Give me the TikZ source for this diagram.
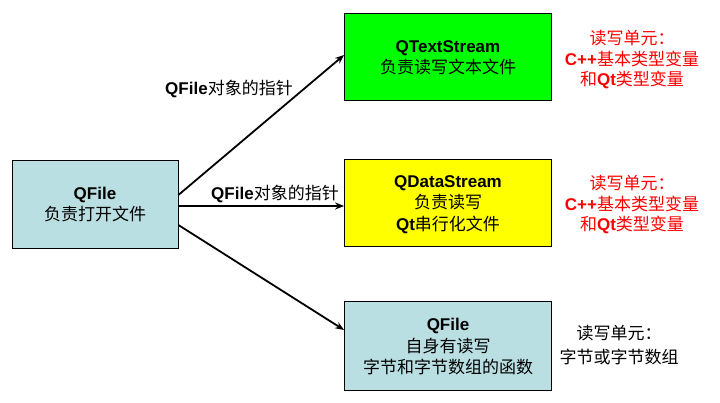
\documentclass[tikz,border=0pt]{standalone}
\usepackage{fontspec}
\setmainfont{Noto Sans CJK SC}
\newfontfamily\lat{Liberation Sans}
\usetikzlibrary{arrows.meta}
\definecolor{boxcyan}{RGB}{185,223,226}
\definecolor{boxgreen}{RGB}{0,255,0}
\definecolor{boxyellow}{RGB}{255,255,0}
\newcommand{\en}[1]{{\lat\bfseries #1}}
\tikzset{
  box/.style={draw,line width=0.8pt,align=center,minimum width=207pt,minimum height=87pt,inner sep=0pt,text depth=-9pt,font=\fontsize{17}{21.5}\selectfont},
  note/.style={align=center,inner sep=0pt,font=\fontsize{17}{20.5}\selectfont},
  link/.style={line width=1.8pt,-{Stealth[length=9pt,width=7pt]}}
}
\begin{document}
\begin{tikzpicture}[x=1pt,y=-1pt]
\useasboundingbox (0,0) rectangle (720,403);
% boxes
\node[box,fill=boxcyan,minimum width=166pt,minimum height=88pt] (qfile) at (95,204) {\en{QFile}\\负责打开文件};
\node[box,fill=boxgreen] (text) at (448,57) {\en{QTextStream}\\负责读写文本文件};
\node[box,fill=boxyellow] (data) at (448,203) {\en{QDataStream}\\负责读写\\\en{Qt}串行化文件};
\node[box,fill=boxcyan,minimum height=89pt] (raw) at (448,346) {\en{QFile}\\自身有读写\\字节和字节数组的函数};
% arrows
\draw[link] ([yshift=9pt]qfile.east) -- ([yshift=2pt]text.west);
\draw[link] ([yshift=-2pt]qfile.east) -- ([yshift=-3pt]data.west);
\draw[link] ([yshift=-21pt]qfile.east) -- ([yshift=16pt]raw.west);
\node[note] (toplabel) at (229,89) {\en{QFile}对象的指针};
\node[note] (midlabel) at (275,194) {\en{QFile}对象的指针};
% units
\node[note,text=red] (textunit) at (632,60) {读写单元：\\\en{C++}基本类型变量\\和\en{Qt}类型变量};
\node[note,text=red] (dataunit) at (632,205) {读写单元：\\\en{C++}基本类型变量\\和\en{Qt}类型变量};
\node[note,font=\fontsize{17}{24}\selectfont] (rawunit) at (619,345) {读写单元：\\字节或字节数组};
\end{tikzpicture}
\end{document}
